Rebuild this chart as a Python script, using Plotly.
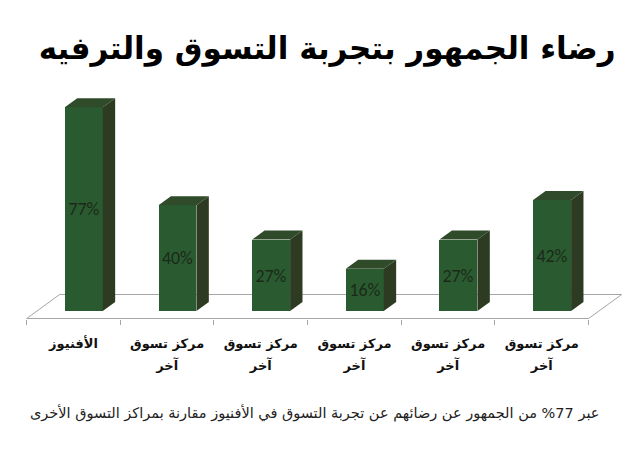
import plotly.graph_objects as go

# ---------------- data ----------------
title_text = "رضاء الجمهور بتجربة التسوق والترفيه"
subtitle_text = "عبر 77% من الجمهور عن رضائهم عن تجربة التسوق في الأفنيوز مقارنة بمراكز التسوق الأخرى"
categories = ["الأفنيوز", "مركز تسوق آخر", "مركز تسوق آخر", "مركز تسوق آخر", "مركز تسوق آخر", "مركز تسوق آخر"]
label_line1 = ["الأفنيوز", "مركز تسوق", "مركز تسوق", "مركز تسوق", "مركز تسوق", "مركز تسوق"]
label_line2 = ["", "آخر", "آخر", "آخر", "آخر", "آخر"]
values = [77, 40, 27, 16, 27, 42]

# ---------------- style / geometry ----------------
FRONT = "#2a5b30"
TOP = "#2f4b29"
SIDE = "#2d3b23"
GRID = "#a6a6a6"
BAR_W = 0.405
DX, DY = 0.1324, 3.403          # bar depth (data units)
FX, FY = 0.3523, 9.074          # floor depth (data units)
FRONT_SHIFT_X, FRONT_Y = -0.110, -2.836
XR = [-0.8947, 5.981]
YR = [-52.55, 117.58]
AXIS_POS = (450 - 318.5) / 450

n = len(values)
xs = list(range(n))

fig = go.Figure()

# front faces
fig.add_trace(go.Bar(
    x=xs, y=values, width=BAR_W,
    marker=dict(color=FRONT, line=dict(width=0)),
    text=[f"{v}%" for v in values],
    textposition="inside", insidetextanchor="middle", textangle=0,
    textfont=dict(family="Carlito, Lato, sans-serif", size=18, color="#1b2a18"),
    hoverinfo="skip", showlegend=False,
))

# side faces
sx, sy = [], []
for x, v in zip(xs, values):
    r = x + BAR_W / 2
    sx += [r, r + DX, r + DX, r, r, None]
    sy += [0, DY, v + DY, v, 0, None]
fig.add_trace(go.Scatter(x=sx, y=sy, mode="lines", fill="toself", fillcolor=SIDE,
                         line=dict(width=0, color=SIDE), hoverinfo="skip", showlegend=False))

# top faces
tx, ty = [], []
for x, v in zip(xs, values):
    l, r = x - BAR_W / 2, x + BAR_W / 2
    tx += [l, r, r + DX, l + DX, l, None]
    ty += [v, v, v + DY, v + DY, v, None]
fig.add_trace(go.Scatter(x=tx, y=ty, mode="lines", fill="toself", fillcolor=TOP,
                         line=dict(width=0, color=TOP), hoverinfo="skip", showlegend=False))

# floor
fl = -0.5 + FRONT_SHIFT_X
fr = n - 0.5 + FRONT_SHIFT_X
path = (f"M {fl},{FRONT_Y} L {fr},{FRONT_Y} L {fr + FX},{FRONT_Y + FY} "
        f"L {fl + FX},{FRONT_Y + FY} Z")
fig.add_shape(type="path", path=path, xref="x", yref="y", layer="below",
              line=dict(color=GRID, width=1), fillcolor="white")

label_font = dict(family="DejaVu Sans", size=13, color="#111111", weight="bold")
centers = [x + FRONT_SHIFT_X for x in xs]
common = dict(range=XR, domain=[0, 1], anchor="free", position=AXIS_POS,
              showline=False, showgrid=False, zeroline=False, automargin=False,
              fixedrange=True)

fig.update_layout(
    width=644, height=450,
    margin=dict(l=0, r=0, t=0, b=0),
    paper_bgcolor="white", plot_bgcolor="white",
    bargap=0,
    title=dict(text=title_text, x=0.508, xref="paper", xanchor="center",
               y=1 - 48 / 450, yref="container", yanchor="middle",
               font=dict(family="DejaVu Sans", size=31, color="#000000", weight="bold")),
    xaxis=dict(**common, tickvals=centers, ticktext=label_line1,
               ticks="", tickfont=label_font, ticklabelstandoff=15),
    xaxis2=dict(**common, overlaying="x",
                tickvals=[x - 0.5 + FRONT_SHIFT_X for x in range(n + 1)],
                ticks="outside", ticklen=5, tickcolor=GRID, tickwidth=1,
                showticklabels=False),
    xaxis3=dict(**common, overlaying="x", tickvals=centers,
                ticktext=[t if t else " " for t in label_line2],
                ticks="", tickfont=label_font, ticklabelstandoff=37),
    yaxis=dict(range=YR, domain=[0, 1], visible=False, fixedrange=True),
    annotations=[dict(text=subtitle_text, xref="paper", yref="paper",
                      x=314 / 644, y=1 - 413 / 450, xanchor="center", yanchor="middle",
                      showarrow=False,
                      font=dict(family="DejaVu Sans", size=14.5, color="#222222"))],
)
# invisible anchors so the overlay axes render
for ax in ("x2", "x3"):
    fig.add_trace(go.Scatter(x=[XR[0]], y=[YR[0]], xaxis=ax, mode="markers",
                             marker=dict(opacity=0), hoverinfo="skip", showlegend=False))

fig.write_html("out.html")
